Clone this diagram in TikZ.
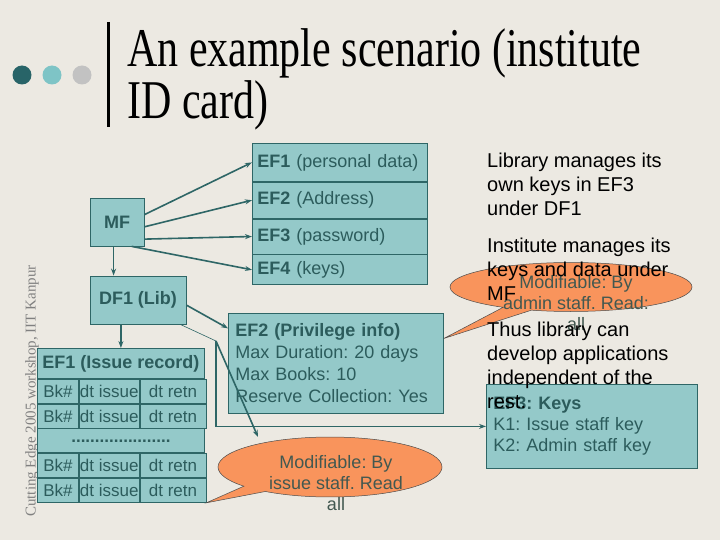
\documentclass[tikz,border=0pt]{standalone}
\usepackage{fontspec}
\setmainfont{Liberation Serif}
\setsansfont{Liberation Sans}
\usepackage{graphicx}
\usepackage{tikz}
\usetikzlibrary{positioning}
\usetikzlibrary{arrows.meta, shapes.callouts}
\definecolor{bgcol}{RGB}{236,233,226}
\definecolor{tealbox}{RGB}{148,201,201}
\definecolor{tealline}{RGB}{46,102,102}
\definecolor{tealtext}{RGB}{44,92,92}
\definecolor{callfill}{RGB}{249,148,92}
\definecolor{calltext}{RGB}{66,88,80}
\definecolor{dotdark}{RGB}{40,100,104}
\definecolor{dotmid}{RGB}{126,196,198}
\definecolor{dotgray}{RGB}{194,194,194}
\frenchspacing

\begin{document}
\begin{tikzpicture}[x=1pt, y=-1pt,
    filebox/.style={draw=tealline, fill=tealbox, line width=0.8pt, text=tealtext, inner sep=0pt,
        font=\sffamily\fontsize{18}{21}\selectfont},
    rowbox/.style={filebox, text width=165pt, inner xsep=5pt, align=left},
    cell/.style={filebox, minimum height=24pt, font=\sffamily\fontsize{17}{21}\selectfont},
    arr/.style={draw=tealline, line width=1.6pt, -{Stealth[length=7pt, width=5pt]}},
    bubble/.style={ellipse callout, draw=black!70, fill=callfill, line width=0.5pt, inner sep=0pt},
    bubbletext/.style={text=calltext, align=center, font=\sffamily\fontsize{18}{21}\selectfont},
    bodytext/.style={anchor=north west, align=left, inner sep=0pt, font=\sffamily\fontsize{20}{24}\selectfont}]

    % nen
    \useasboundingbox (0,0) rectangle (720,540);
    \fill[bgcol] (0,0) rectangle (720,540);

    % tieu de
    \fill[dotdark] (22,75) circle (9.5pt);
    \fill[dotmid] (52,75) circle (9.5pt);
    \fill[dotgray] (82,75) circle (9.5pt);
    \draw[line width=3pt] (108,22) -- (108,127);
    \node[anchor=base west, inner sep=0pt, font=\fontsize{42}{42}\selectfont] (title1) at (127,67) {\scalebox{1}[1.3]{An example scenario (institute}};
    \node[anchor=base west, inner sep=0pt, font=\fontsize{42}{42}\selectfont] (title2) at (127,119) {\scalebox{1}[1.3]{ID card)}};

    % chu doc ben trai
    \node[rotate=90, text=black!50, inner sep=0pt, font=\fontsize{15}{15}\selectfont] (credit) at (32,391) {Cutting Edge 2005 workshop, IIT Kanpur};

    % MF va cac EF
    \node[filebox, minimum width=54pt, minimum height=48pt, font=\sffamily\bfseries\fontsize{18}{21}\selectfont] (mf) at (117,222) {MF};
    \node[rowbox, minimum height=38pt, anchor=north west] (ef1) at (252,143) {\textbf{EF1} (personal data)};
    \node[rowbox, minimum height=36pt, below=0pt of ef1] (ef2) {\textbf{EF2} (Address)};
    \node[rowbox, minimum height=35pt, below=0pt of ef2] (ef3) {\textbf{EF3} (password)};
    \node[rowbox, minimum height=30pt, below=0pt of ef3] (ef4) {\textbf{EF4} (keys)};
    \draw[arr] (mf.15) -- (ef1.west);
    \draw[arr] (mf.-10) -- (ef2.west);
    \draw[arr] (mf.-32) -- (ef3.west);
    \draw[arr] (mf.-59) -- (ef4.west);

    % DF1
    \node[filebox, minimum width=96pt, minimum height=48pt, font=\sffamily\bfseries\fontsize{18}{21}\selectfont] (df1) at (138,300) {DF1 (Lib)};
    \draw[arr] (mf.-98) -- (mf.-98 |- df1.north);

    % EF1 (Issue record)
    \node[filebox, minimum width=167pt, minimum height=30pt, anchor=north west, font=\sffamily\bfseries\fontsize{18}{21}\selectfont] (ishead) at (37,348) {EF1 (Issue record)};
    \draw[arr] (ishead.north |- df1.south) -- (ishead.north);
    \node[cell, minimum width=41pt, anchor=north west] (bk1) at (ishead.south west) {Bk\#};
    \node[cell, minimum width=60pt, right=0pt of bk1] (iss1) {dt issue};
    \node[cell, minimum width=66pt, right=0pt of iss1] (ret1) {dt retn};
    \node[cell, minimum width=41pt, below=0pt of bk1] (bk2) {Bk\#};
    \node[cell, minimum width=60pt, right=0pt of bk2] (iss2) {dt issue};
    \node[cell, minimum width=66pt, right=0pt of iss2] (ret2) {dt retn};
    \node[cell, minimum width=167pt, anchor=north west] (gap) at (bk2.south west) {\textbf{.....................}};
    \node[cell, minimum width=41pt, anchor=north west] (bk3) at (gap.south west) {Bk\#};
    \node[cell, minimum width=60pt, right=0pt of bk3] (iss3) {dt issue};
    \node[cell, minimum width=66pt, right=0pt of iss3] (ret3) {dt retn};
    \node[cell, minimum width=41pt, below=0pt of bk3] (bk4) {Bk\#};
    \node[cell, minimum width=60pt, right=0pt of bk4] (iss4) {dt issue};
    \node[cell, minimum width=66pt, right=0pt of iss4] (ret4) {dt retn};

    % EF2 (Privilege info)
    \node[filebox, text width=201pt, inner xsep=7pt, minimum height=100pt, anchor=north west, align=left,
        font=\sffamily\fontsize{18}{22}\selectfont] (priv) at (228,313)
        {\textbf{EF2 (Privilege info)}\\Max Duration: 20 days\\Max Books: 10\\Reserve Collection: Yes};
    \draw[arr] (df1.-6) -- (priv.162);

    % EF3: Keys
    \node[filebox, text width=197pt, inner xsep=7pt, minimum height=84pt, anchor=north west, align=left] (keys) at (486,384)
        {\textbf{EF3: Keys}\\K1: Issue staff key\\K2: Admin staff key};
    \coordinate (c1) at (216,341);
    \coordinate (modtip) at (258,437);
    \draw[tealline, line width=0.6pt] (df1.-30) -- (c1);
    \draw[arr, line width=1.4pt] (c1) |- (keys.west);
    \draw[arr] (c1) -- (modtip);

    % bong chu thich
    \node[bubble, minimum width=224pt, minimum height=60pt, callout absolute pointer={(ret4.south east)}] (mod1) at (330,467) {};
    \node[bubbletext] (mod1txt) at (336,483) {Modifiable: By\\issue staff. Read\\all};
    \node[bubble, minimum width=242pt, minimum height=49pt, callout absolute pointer={(priv.13)}] (mod2) at (571,287) {};
    \node[bubbletext] (mod2txt) at (576,303) {Modifiable: By\\admin staff. Read:\\all};

    % chu ben phai
    \node[bodytext] (libtxt) at (487,152.4) {Library manages its\\own keys in EF3\\under DF1};
    \node[bodytext] (insttxt) at (487,237.7) {Institute manages its\\keys and data under\\MF};
    \node[bodytext] (thustxt) at (487,321.4) {Thus library can\\develop applications\\independent of the\\rest.};
\end{tikzpicture}
\end{document}
